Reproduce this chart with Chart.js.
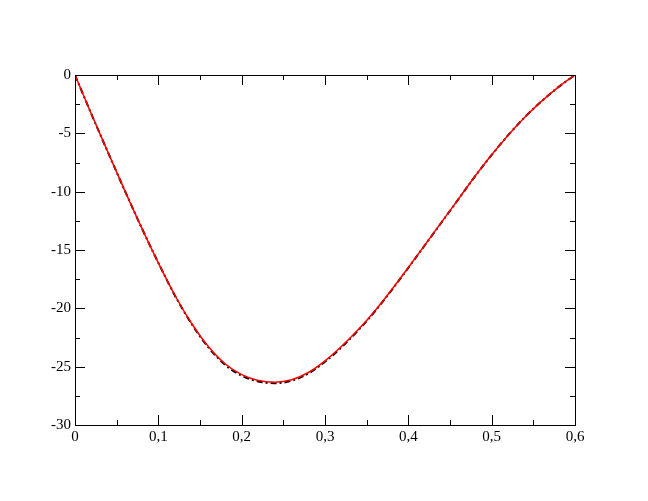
<!DOCTYPE html>
<html>
<head>
<meta charset="utf-8">
<script src="https://cdn.jsdelivr.net/npm/chart.js@4"></script>
<style>
html,body{margin:0;padding:0;background:#fff;}
#wrap{width:648px;height:501px;}
</style>
</head>
<body>
<div id="wrap"><canvas id="c" width="648" height="501"></canvas></div>
<script>
const xValues = [0,0.02,0.04,0.06,0.08,0.10,0.12,0.14,0.16,0.18,0.20,0.22,0.24,0.26,0.28,0.30,0.32,0.34,0.36,0.38,0.40,0.42,0.44,0.46,0.48,0.50,0.52,0.54,0.56,0.58,0.60];
const redValues = [0,-3.4,-6.7,-9.95,-13.1,-16.1,-18.9,-21.3,-23.28,-24.75,-25.68,-26.18,-26.33,-26.12,-25.5,-24.5,-23.25,-21.82,-20.2,-18.4,-16.5,-14.55,-12.6,-10.65,-8.68,-6.84,-5.14,-3.6,-2.24,-1.04,0];
const blackValues = [0,-3.4,-6.7,-9.95,-13.1,-16.1,-18.92,-21.34,-23.34,-24.83,-25.77,-26.27,-26.42,-26.21,-25.59,-24.58,-23.32,-21.88,-20.25,-18.44,-16.53,-14.57,-12.62,-10.66,-8.69,-6.85,-5.14,-3.6,-2.24,-1.04,0];
const xTicks = [0,0.1,0.2,0.3,0.4,0.5,0.6];
const yTicks = [0,-5,-10,-15,-20,-25,-30];

const pts = (ys) => xValues.map((x,i)=>({x:x,y:ys[i]}));

const framePlugin = {
  id:'frame',
  afterDatasetsDraw(chart){
    const {ctx, chartArea:a, scales:{x,y}} = chart;
    ctx.save();
    ctx.strokeStyle='#000';
    ctx.lineWidth=1;
    ctx.strokeRect(a.left+0.5, a.top+0.5, a.right-a.left, a.bottom-a.top);
    ctx.beginPath();
    for(let v=0; v<=0.6001; v+=0.05){
      const px = Math.round(x.getPixelForValue(v))+0.5;
      const major = Math.abs(v*10-Math.round(v*10))<1e-6;
      const L = major?10:5;
      ctx.moveTo(px,a.bottom); ctx.lineTo(px,a.bottom-L);
      ctx.moveTo(px,a.top); ctx.lineTo(px,a.top+L);
    }
    for(let v=0; v>=-30.001; v-=2.5){
      const py = Math.round(y.getPixelForValue(v))+0.5;
      const major = Math.abs(v/5-Math.round(v/5))<1e-6;
      const L = major?10:5;
      ctx.moveTo(a.left,py); ctx.lineTo(a.left+L,py);
      ctx.moveTo(a.right,py); ctx.lineTo(a.right-L,py);
    }
    ctx.stroke();
    ctx.restore();
  }
};

new Chart(document.getElementById('c'),{
  type:'line',
  data:{datasets:[
    {data:pts(redValues), borderColor:'#ff0000', borderWidth:1.5, pointRadius:0, cubicInterpolationMode:'monotone', fill:false},
    {data:pts(blackValues), borderColor:'#000000', borderWidth:2, borderDash:[6,3,2,3], pointRadius:0, cubicInterpolationMode:'monotone', fill:false}
  ]},
  options:{
    responsive:false,
    animation:false,
    layout:{padding:{left:0,top:75,right:73,bottom:0}},
    plugins:{legend:{display:false},tooltip:{enabled:false}},
    scales:{
      x:{type:'linear',min:0,max:0.6,
        afterFit(s){s.height=76;},
        afterBuildTicks(s){s.ticks=xTicks.map(v=>({value:v}));},
        grid:{display:false,drawTicks:false},border:{display:false},
        ticks:{padding:3,color:'#000',font:{family:'Liberation Serif',size:15},
          callback:(v)=> v===0?'0':Number(v).toFixed(1).replace('.',',')}
      },
      y:{type:'linear',min:-30,max:0,
        afterFit(s){s.width=75;},
        afterBuildTicks(s){s.ticks=yTicks.map(v=>({value:v}));},
        grid:{display:false,drawTicks:false},border:{display:false},
        ticks:{padding:4,color:'#000',font:{family:'Liberation Serif',size:15},
          callback:(v)=>String(v)}
      }
    }
  },
  plugins:[framePlugin]
});
</script>
</body>
</html>
